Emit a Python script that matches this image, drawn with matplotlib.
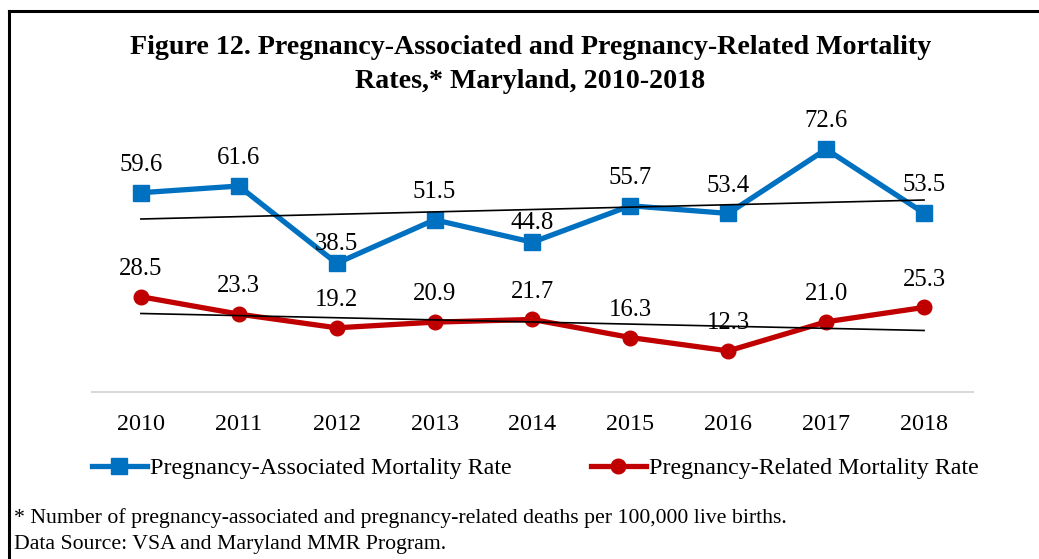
import numpy as np
import matplotlib.pyplot as plt
from matplotlib.lines import Line2D

years = ['2010', '2011', '2012', '2013', '2014', '2015', '2016', '2017', '2018']
assoc_rate = [59.6, 61.6, 38.5, 51.5, 44.8, 55.7, 53.4, 72.6, 53.5]
related_rate = [28.5, 23.3, 19.2, 20.9, 21.7, 16.3, 12.3, 21.0, 25.3]

# label offsets above the points (points), a couple were nudged down in the original
assoc_off = [20, 20, 14, 20, 14, 20, 20, 20, 20]
related_off = [20, 20, 20, 20, 20, 20, 20, 20, 20]

plt.rcParams['font.family'] = ['Liberation Serif', 'DejaVu Serif']

fig = plt.figure(figsize=(10.39, 5.59), dpi=100)
ax = fig.add_axes([0.0885, 0.2987, 0.848, 0.4786])

x = np.arange(len(years))
ax.plot(x, assoc_rate, color='#0070C0', lw=3.8, marker='s', ms=11,
        label='Pregnancy-Associated Mortality Rate')
ax.plot(x, related_rate, color='#C00000', lw=3.8, marker='o', ms=10.5,
        label='Pregnancy-Related Mortality Rate')

# linear trendlines
for s in (assoc_rate, related_rate):
    k, b = np.polyfit(x, s, 1)
    ends = x[[0, -1]]
    ax.plot(ends, k * ends + b, color='black', lw=1.2, zorder=5)

for vals, offs in ((assoc_rate, assoc_off), (related_rate, related_off)):
    for i, v in enumerate(vals):
        ax.annotate(f'{v:.1f}', (i, v), xytext=(0, offs[i]), textcoords='offset points',
                    ha='center', va='center', fontsize=17.8)

ax.set_xlim(-0.5, len(years) - 0.5)
ax.set_ylim(0, 80)
ax.set_yticks([])
ax.set_xticks(x, years)
ax.tick_params(axis='x', length=0, pad=15.5, labelsize=17.4)
for side in ('top', 'right', 'left'):
    ax.spines[side].set_visible(False)
ax.spines['bottom'].set_color('#D9D9D9')
ax.spines['bottom'].set_linewidth(1.5)

fig.legend(loc='center', bbox_to_anchor=(0.515, 1 - 468 / 559), ncol=2, frameon=False,
           fontsize=17.3, handlelength=2.3, handletextpad=0.12, columnspacing=3.3)

fig.text(0.5106, 1 - 48 / 559, 'Figure 12. Pregnancy-Associated and Pregnancy-Related Mortality',
         ha='center', va='center', fontsize=20.2, fontweight='bold')
fig.text(0.5106, 1 - 82 / 559, 'Rates,* Maryland, 2010-2018',
         ha='center', va='center', fontsize=20.2, fontweight='bold')

fig.text(14 / 1039, 1 - 518 / 559,
         '* Number of pregnancy-associated and pregnancy-related deaths per 100,000 live births.',
         va='center', fontsize=15.7)
fig.text(14 / 1039, 1 - 544 / 559, 'Data Source: VSA and Maryland MMR Program.',
         va='center', fontsize=15.7)

# chart border (only top and left edges fall inside the picture)
fig.add_artist(Line2D([9 / 1039, 1.0], [1 - 10.5 / 559, 1 - 10.5 / 559],
                      transform=fig.transFigure, color='black', lw=2.2))
fig.add_artist(Line2D([9 / 1039, 9 / 1039], [0, 1 - 10.5 / 559],
                      transform=fig.transFigure, color='black', lw=2.2))

fig.savefig('out.png', dpi=100)
